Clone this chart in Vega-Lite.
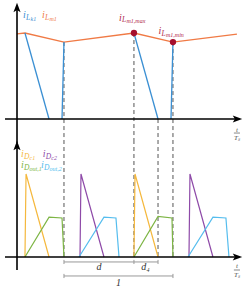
{
  "$schema": "https://vega.github.io/schema/vega-lite/v6.json",
  "padding": 0,
  "spacing": 0,
  "bounds": "flush",
  "config": {"view": {"stroke": null}},
  "datasets": {
    "topLines": [
      {"series": "iLm1", "seg": "m", "t": 0.0, "i": 0.99},
      {"series": "iLm1", "seg": "m", "t": 0.073, "i": 1.0},
      {"series": "iLm1", "seg": "m", "t": 0.431, "i": 0.895},
      {"series": "iLm1", "seg": "m", "t": 1.073, "i": 1.0},
      {"series": "iLm1", "seg": "m", "t": 1.431, "i": 0.895},
      {"series": "iLm1", "seg": "m", "t": 2.018, "i": 0.988},
      {"series": "iLk1", "seg": "a", "t": 0.073, "i": 1.0},
      {"series": "iLk1", "seg": "a", "t": 0.294, "i": 0.0},
      {"series": "iLk1", "seg": "b", "t": 0.413, "i": 0.0},
      {"series": "iLk1", "seg": "b", "t": 0.431, "i": 0.895},
      {"series": "iLk1", "seg": "c", "t": 1.073, "i": 1.0},
      {"series": "iLk1", "seg": "c", "t": 1.294, "i": 0.0},
      {"series": "iLk1", "seg": "d", "t": 1.413, "i": 0.0},
      {"series": "iLk1", "seg": "d", "t": 1.431, "i": 0.895}
    ],
    "topDash": [
      {"t": 0.431, "i1": 0.895, "i2": -0.244},
      {"t": 1.073, "i1": 1.0, "i2": -0.244},
      {"t": 1.294, "i1": 0.0, "i2": -0.244},
      {"t": 1.431, "i1": 0.895, "i2": -0.244}
    ],
    "topDots": [
      {"t": 1.073, "i": 1.0},
      {"t": 1.431, "i": 0.895}
    ],
    "topAxes": [
      {"t1": -0.11, "t2": 2.02, "i1": 0, "i2": 0},
      {"t1": 0, "t2": 0, "i1": -0.28, "i2": 1.29}
    ],
    "topArrows": [
      {"dir": "right", "t": 2.023, "i": 0},
      {"dir": "up", "t": 0, "i": 1.297}
    ],
    "topLabels": [
      {"series": "iLk1", "t": 0.055, "i": 1.174, "main": "i", "sub": "L", "sub2": "k1"},
      {"series": "iLm1", "t": 0.229, "i": 1.174, "main": "i", "sub": "L", "sub2": "m1"},
      {"series": "max", "t": 0.936, "i": 1.14, "main": "i", "sub": "L", "sub2": "m1,max"},
      {"series": "min", "t": 1.298, "i": 0.988, "main": "i", "sub": "L", "sub2": "m1,min"}
    ],
    "topFrac": [
      {"txt": "t", "t": 2.018, "i": -0.128},
      {"txt": "Tₛ", "t": 2.018, "i": -0.221}
    ],
    "topBar": [{"t1": 1.99, "t2": 2.046, "i": -0.163}],
    "botLines": [
      {"series": "iDc1", "seg": "1", "t": 0.073, "i": 0},
      {"series": "iDc1", "seg": "1", "t": 0.083, "i": 1},
      {"series": "iDc1", "seg": "1", "t": 0.294, "i": 0},
      {"series": "iDc1", "seg": "2", "t": 1.073, "i": 0},
      {"series": "iDc1", "seg": "2", "t": 1.083, "i": 1},
      {"series": "iDc1", "seg": "2", "t": 1.294, "i": 0},
      {"series": "iDout1", "seg": "1", "t": 0.073, "i": 0},
      {"series": "iDout1", "seg": "1", "t": 0.294, "i": 0.48},
      {"series": "iDout1", "seg": "1", "t": 0.413, "i": 0.47},
      {"series": "iDout1", "seg": "1", "t": 0.431, "i": 0},
      {"series": "iDout1", "seg": "2", "t": 1.073, "i": 0},
      {"series": "iDout1", "seg": "2", "t": 1.294, "i": 0.49},
      {"series": "iDout1", "seg": "2", "t": 1.422, "i": 0.47},
      {"series": "iDout1", "seg": "2", "t": 1.431, "i": 0},
      {"series": "iDc2", "seg": "1", "t": 0.578, "i": 0},
      {"series": "iDc2", "seg": "1", "t": 0.587, "i": 1},
      {"series": "iDc2", "seg": "1", "t": 0.798, "i": 0},
      {"series": "iDc2", "seg": "2", "t": 1.578, "i": 0},
      {"series": "iDc2", "seg": "2", "t": 1.587, "i": 1},
      {"series": "iDc2", "seg": "2", "t": 1.798, "i": 0},
      {"series": "iDout2", "seg": "1", "t": 0.569, "i": 0},
      {"series": "iDout2", "seg": "1", "t": 0.798, "i": 0.48},
      {"series": "iDout2", "seg": "1", "t": 0.908, "i": 0.47},
      {"series": "iDout2", "seg": "1", "t": 0.936, "i": 0},
      {"series": "iDout2", "seg": "2", "t": 1.569, "i": 0},
      {"series": "iDout2", "seg": "2", "t": 1.798, "i": 0.48},
      {"series": "iDout2", "seg": "2", "t": 1.917, "i": 0.47},
      {"series": "iDout2", "seg": "2", "t": 1.945, "i": 0}
    ],
    "botDash": [
      {"t": 0.431, "i1": 1.41, "i2": 0},
      {"t": 1.073, "i1": 1.41, "i2": 0},
      {"t": 1.294, "i1": 1.41, "i2": 0},
      {"t": 1.431, "i1": 1.41, "i2": 0}
    ],
    "botAxes": [
      {"t1": -0.11, "t2": 2.02, "i1": 0, "i2": 0},
      {"t1": 0, "t2": 0, "i1": -0.157, "i2": 1.34}
    ],
    "botArrows": [
      {"dir": "right", "t": 2.023, "i": 0},
      {"dir": "up", "t": 0, "i": 1.343}
    ],
    "botLabels": [
      {"series": "iDc1", "t": 0.037, "i": 1.2, "main": "i", "sub": "D", "sub2": "c1"},
      {"series": "iDc2", "t": 0.236, "i": 1.2, "main": "i", "sub": "D", "sub2": "c2"},
      {"series": "iDout1", "t": 0.037, "i": 1.07, "main": "i", "sub": "D", "sub2": "out,1"},
      {"series": "iDout2", "t": 0.22, "i": 1.07, "main": "i", "sub": "D", "sub2": "out,2"}
    ],
    "botFrac": [
      {"txt": "t", "t": 2.018, "i": -0.108},
      {"txt": "Tₛ", "t": 2.018, "i": -0.217}
    ],
    "botBar": [{"t1": 1.99, "t2": 2.046, "i": -0.157}],
    "dims": [
      {"name": "d", "t1": 0.431, "t2": 1.073, "i": -0.06},
      {"name": "d4", "t1": 1.073, "t2": 1.294, "i": -0.06},
      {"name": "one", "t1": 0.431, "t2": 1.431, "i": -0.229}
    ],
    "dimTicks": [
      {"t": 0.431, "i1": -0.035, "i2": -0.085},
      {"t": 1.073, "i1": -0.035, "i2": -0.085},
      {"t": 1.294, "i1": -0.035, "i2": -0.085},
      {"t": 0.431, "i1": -0.204, "i2": -0.254},
      {"t": 1.431, "i1": -0.204, "i2": -0.254}
    ],
    "dimLabels": [
      {"label": "d", "t": 0.752, "i": -0.12},
      {"label": "d₄", "t": 1.18, "i": -0.12},
      {"label": "1", "t": 0.931, "i": -0.313}
    ]
  },
  "vconcat": [
    {
      "width": 245,
      "height": 140,
      "layer": [
        {
          "data": {"name": "topDash"},
          "mark": {"type": "rule", "color": "#555555", "strokeWidth": 1, "strokeDash": [4, 3]},
          "encoding": {
            "x": {"field": "t", "type": "quantitative", "scale": {"domain": [-0.156, 2.092], "nice": false, "zero": false}, "axis": null},
            "y": {"field": "i1", "type": "quantitative", "scale": {"domain": [-0.244, 1.384], "nice": false, "zero": false}, "axis": null},
            "y2": {"field": "i2"}
          }
        },
        {
          "data": {"name": "topLines"},
          "mark": {"type": "line", "strokeWidth": 1.3},
          "encoding": {
            "x": {"field": "t", "type": "quantitative"},
            "y": {"field": "i", "type": "quantitative"},
            "detail": {"field": "seg"},
            "order": {"field": "t", "type": "quantitative"},
            "color": {"field": "series", "type": "nominal", "legend": null,
              "scale": {"domain": ["iLk1", "iLm1", "max", "min", "iDc1", "iDc2", "iDout1", "iDout2"],
                        "range": ["#3A8FD3", "#F07A45", "#B0284A", "#B0284A", "#F5B83D", "#8E4AA8", "#7DB544", "#55BDEE"]}}
          }
        },
        {
          "data": {"name": "topAxes"},
          "mark": {"type": "rule", "color": "#000000", "strokeWidth": 1.6},
          "encoding": {
            "x": {"field": "t1", "type": "quantitative"},
            "x2": {"field": "t2"},
            "y": {"field": "i1", "type": "quantitative"},
            "y2": {"field": "i2"}
          }
        },
        {
          "data": {"name": "topArrows"},
          "mark": {"type": "point", "filled": true, "color": "#000000", "opacity": 1, "size": 90},
          "encoding": {
            "x": {"field": "t", "type": "quantitative"},
            "y": {"field": "i", "type": "quantitative"},
            "shape": {"field": "dir", "type": "nominal", "legend": null,
              "scale": {"domain": ["up", "right"], "range": ["M0,-1L0.75,1L0,0.55L-0.75,1Z", "M1,0L-1,0.75L-0.55,0L-1,-0.75Z"]}}
          }
        },
        {
          "data": {"name": "topDots"},
          "mark": {"type": "point", "filled": true, "color": "#A50F2D", "opacity": 1, "size": 40},
          "encoding": {
            "x": {"field": "t", "type": "quantitative"},
            "y": {"field": "i", "type": "quantitative"}
          }
        },
        {
          "data": {"name": "topLabels"},
          "mark": {"type": "text", "font": "Liberation Serif", "fontStyle": "italic", "fontSize": 10, "align": "left", "baseline": "alphabetic"},
          "encoding": {
            "x": {"field": "t", "type": "quantitative"},
            "y": {"field": "i", "type": "quantitative"},
            "text": {"field": "main"},
            "color": {"field": "series", "type": "nominal", "legend": null}
          }
        },
        {
          "data": {"name": "topLabels"},
          "mark": {"type": "text", "font": "Liberation Serif", "fontStyle": "italic", "fontSize": 7.5, "align": "left", "baseline": "alphabetic", "dx": 3, "dy": 1.5},
          "encoding": {
            "x": {"field": "t", "type": "quantitative"},
            "y": {"field": "i", "type": "quantitative"},
            "text": {"field": "sub"},
            "color": {"field": "series", "type": "nominal", "legend": null}
          }
        },
        {
          "data": {"name": "topLabels"},
          "mark": {"type": "text", "font": "Liberation Serif", "fontStyle": "italic", "fontSize": 6, "align": "left", "baseline": "alphabetic", "dx": 7.5, "dy": 2.5},
          "encoding": {
            "x": {"field": "t", "type": "quantitative"},
            "y": {"field": "i", "type": "quantitative"},
            "text": {"field": "sub2"},
            "color": {"field": "series", "type": "nominal", "legend": null}
          }
        },
        {
          "data": {"name": "topFrac"},
          "mark": {"type": "text", "font": "Liberation Serif", "fontStyle": "italic", "fontSize": 7, "align": "center", "baseline": "middle", "color": "#555555"},
          "encoding": {
            "x": {"field": "t", "type": "quantitative"},
            "y": {"field": "i", "type": "quantitative"},
            "text": {"field": "txt"}
          }
        },
        {
          "data": {"name": "topBar"},
          "mark": {"type": "rule", "color": "#555555", "strokeWidth": 0.7},
          "encoding": {
            "x": {"field": "t1", "type": "quantitative"},
            "x2": {"field": "t2"},
            "y": {"field": "i", "type": "quantitative"}
          }
        }
      ]
    },
    {
      "width": 245,
      "height": 149,
      "layer": [
        {
          "data": {"name": "botDash"},
          "mark": {"type": "rule", "color": "#555555", "strokeWidth": 1, "strokeDash": [4, 3]},
          "encoding": {
            "x": {"field": "t", "type": "quantitative", "scale": {"domain": [-0.156, 2.092], "nice": false, "zero": false}, "axis": null},
            "y": {"field": "i1", "type": "quantitative", "scale": {"domain": [-0.386, 1.41], "nice": false, "zero": false}, "axis": null},
            "y2": {"field": "i2"}
          }
        },
        {
          "data": {"name": "botLines"},
          "mark": {"type": "line", "strokeWidth": 1.2},
          "encoding": {
            "x": {"field": "t", "type": "quantitative"},
            "y": {"field": "i", "type": "quantitative"},
            "detail": {"field": "seg"},
            "order": {"field": "t", "type": "quantitative"},
            "color": {"field": "series", "type": "nominal", "legend": null,
              "scale": {"domain": ["iLk1", "iLm1", "max", "min", "iDc1", "iDc2", "iDout1", "iDout2"],
                        "range": ["#3A8FD3", "#F07A45", "#B0284A", "#B0284A", "#F5B83D", "#8E4AA8", "#7DB544", "#55BDEE"]}}
          }
        },
        {
          "data": {"name": "botAxes"},
          "mark": {"type": "rule", "color": "#000000", "strokeWidth": 1.6},
          "encoding": {
            "x": {"field": "t1", "type": "quantitative"},
            "x2": {"field": "t2"},
            "y": {"field": "i1", "type": "quantitative"},
            "y2": {"field": "i2"}
          }
        },
        {
          "data": {"name": "botArrows"},
          "mark": {"type": "point", "filled": true, "color": "#000000", "opacity": 1, "size": 90},
          "encoding": {
            "x": {"field": "t", "type": "quantitative"},
            "y": {"field": "i", "type": "quantitative"},
            "shape": {"field": "dir", "type": "nominal", "legend": null,
              "scale": {"domain": ["up", "right"], "range": ["M0,-1L0.75,1L0,0.55L-0.75,1Z", "M1,0L-1,0.75L-0.55,0L-1,-0.75Z"]}}
          }
        },
        {
          "data": {"name": "dims"},
          "mark": {"type": "rule", "color": "#999999", "strokeWidth": 1},
          "encoding": {
            "x": {"field": "t1", "type": "quantitative"},
            "x2": {"field": "t2"},
            "y": {"field": "i", "type": "quantitative"}
          }
        },
        {
          "data": {"name": "dimTicks"},
          "mark": {"type": "rule", "color": "#999999", "strokeWidth": 1},
          "encoding": {
            "x": {"field": "t", "type": "quantitative"},
            "y": {"field": "i1", "type": "quantitative"},
            "y2": {"field": "i2"}
          }
        },
        {
          "data": {"name": "dimLabels"},
          "mark": {"type": "text", "font": "Liberation Serif", "fontStyle": "italic", "fontSize": 10, "align": "center", "baseline": "middle", "color": "#333333"},
          "encoding": {
            "x": {"field": "t", "type": "quantitative"},
            "y": {"field": "i", "type": "quantitative"},
            "text": {"field": "label"}
          }
        },
        {
          "data": {"name": "botLabels"},
          "mark": {"type": "text", "font": "Liberation Serif", "fontStyle": "italic", "fontSize": 10, "align": "left", "baseline": "alphabetic"},
          "encoding": {
            "x": {"field": "t", "type": "quantitative"},
            "y": {"field": "i", "type": "quantitative"},
            "text": {"field": "main"},
            "color": {"field": "series", "type": "nominal", "legend": null}
          }
        },
        {
          "data": {"name": "botLabels"},
          "mark": {"type": "text", "font": "Liberation Serif", "fontStyle": "italic", "fontSize": 7.5, "align": "left", "baseline": "alphabetic", "dx": 3, "dy": 1.5},
          "encoding": {
            "x": {"field": "t", "type": "quantitative"},
            "y": {"field": "i", "type": "quantitative"},
            "text": {"field": "sub"},
            "color": {"field": "series", "type": "nominal", "legend": null}
          }
        },
        {
          "data": {"name": "botLabels"},
          "mark": {"type": "text", "font": "Liberation Serif", "fontStyle": "italic", "fontSize": 6, "align": "left", "baseline": "alphabetic", "dx": 8.5, "dy": 2.5},
          "encoding": {
            "x": {"field": "t", "type": "quantitative"},
            "y": {"field": "i", "type": "quantitative"},
            "text": {"field": "sub2"},
            "color": {"field": "series", "type": "nominal", "legend": null}
          }
        },
        {
          "data": {"name": "botFrac"},
          "mark": {"type": "text", "font": "Liberation Serif", "fontStyle": "italic", "fontSize": 7, "align": "center", "baseline": "middle", "color": "#555555"},
          "encoding": {
            "x": {"field": "t", "type": "quantitative"},
            "y": {"field": "i", "type": "quantitative"},
            "text": {"field": "txt"}
          }
        },
        {
          "data": {"name": "botBar"},
          "mark": {"type": "rule", "color": "#555555", "strokeWidth": 0.7},
          "encoding": {
            "x": {"field": "t1", "type": "quantitative"},
            "x2": {"field": "t2"},
            "y": {"field": "i", "type": "quantitative"}
          }
        }
      ]
    }
  ]
}
